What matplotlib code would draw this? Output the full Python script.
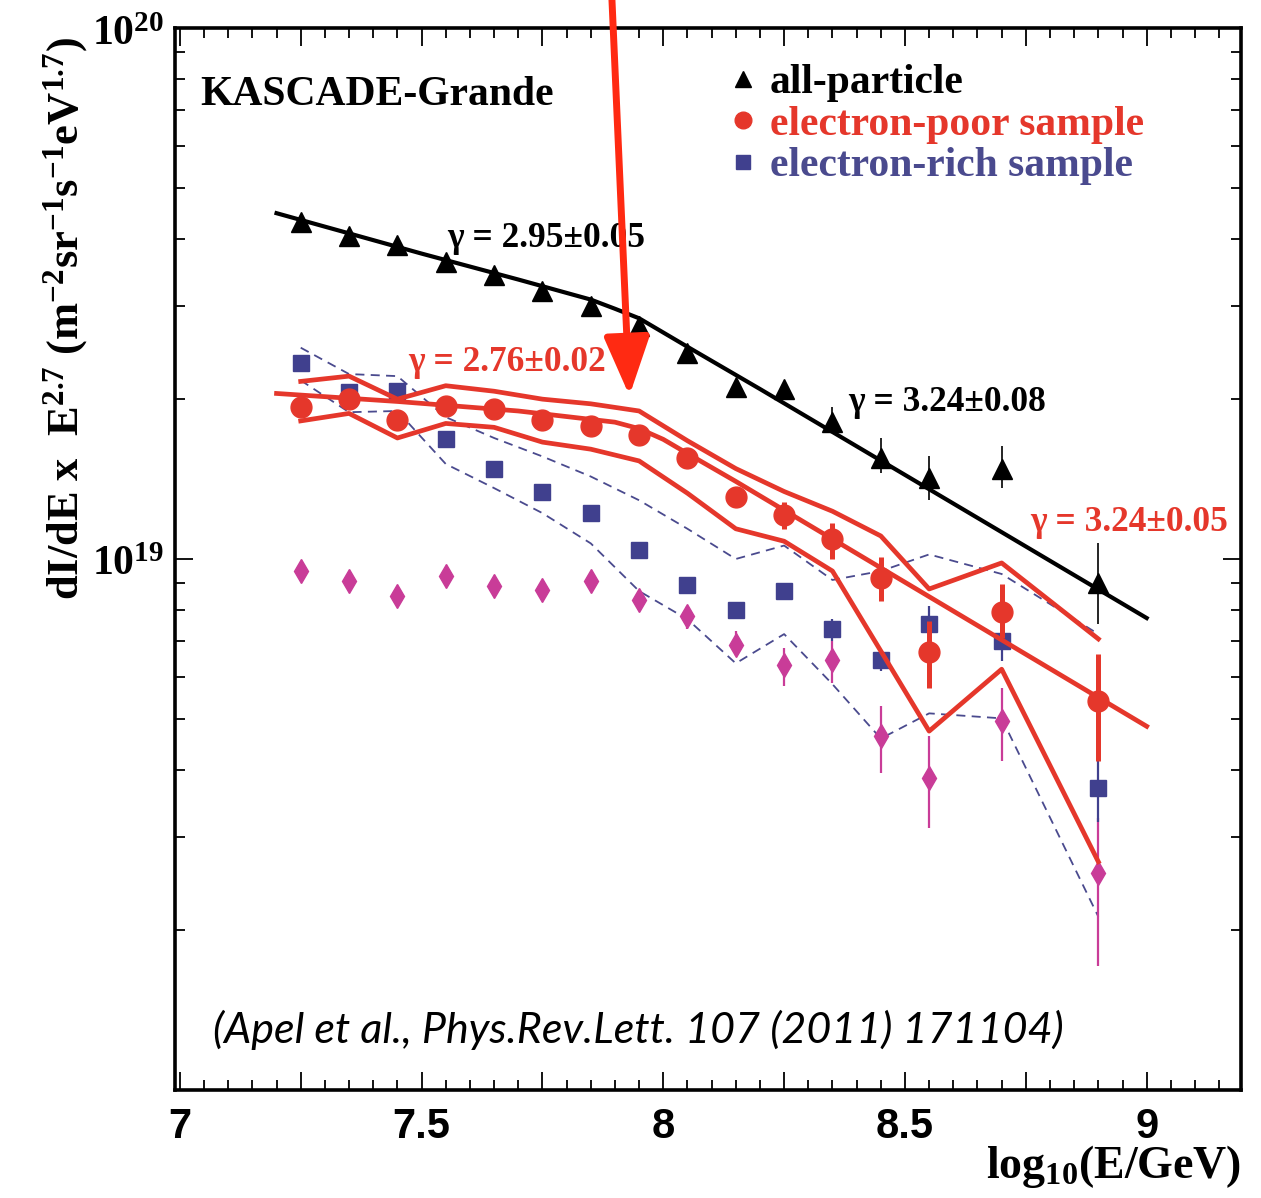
import matplotlib
matplotlib.use('Agg')
import matplotlib.pyplot as plt
from matplotlib.lines import Line2D
from matplotlib.ticker import FixedLocator, FuncFormatter, LogLocator, NullFormatter
import numpy as np

plt.rcParams['mathtext.fontset'] = 'custom'
plt.rcParams['mathtext.rm'] = 'Liberation Serif:bold'
plt.rcParams['mathtext.bf'] = 'Liberation Serif:bold'
plt.rcParams['mathtext.it'] = 'Liberation Serif:bold:italic'

# energy bins, log10(E/GeV)
logE = [7.25, 7.35, 7.45, 7.55, 7.65, 7.75, 7.85, 7.95, 8.05, 8.15, 8.25, 8.35, 8.45, 8.55, 8.7, 8.9]

# all-particle spectrum (x E^2.7)
allp = [4.32e19, 4.05e19, 3.90e19, 3.62e19, 3.42e19, 3.19e19, 3.00e19, 2.75e19,
        2.44e19, 2.11e19, 2.09e19, 1.81e19, 1.55e19, 1.42e19, 1.48e19, 9.01e18]
allp_lo = [None] * 11 + [1.73e19, 1.45e19, 1.29e19, 1.36e19, 7.54e18]
allp_hi = [None] * 11 + [1.93e19, 1.69e19, 1.56e19, 1.63e19, 1.07e19]

# electron-poor sample
epoor = [1.93e19, 2.00e19, 1.83e19, 1.94e19, 1.92e19, 1.83e19, 1.78e19, 1.71e19,
         1.55e19, 1.31e19, 1.21e19, 1.09e19, 9.21e18, 6.68e18, 7.94e18, 5.40e18]
epoor_lo = [None] * 9 + [1.26e19, 1.14e19, 1.00e19, 8.33e18, 5.71e18, 7.10e18, 4.16e18]
epoor_hi = [None] * 9 + [1.36e19, 1.28e19, 1.17e19, 1.01e19, 7.64e18, 8.97e18, 6.62e18]
# systematic band of electron-poor sample
epoor_up = [2.16e19, 2.21e19, 2.00e19, 2.12e19, 2.07e19, 2.00e19, 1.96e19, 1.90e19,
            1.67e19, 1.48e19, 1.34e19, 1.23e19, 1.105e19, 8.78e18, 9.83e18, 7.07e18]
epoor_dn = [1.82e19, 1.88e19, 1.69e19, 1.80e19, 1.77e19, 1.66e19, 1.61e19, 1.53e19,
            1.33e19, 1.14e19, 1.08e19, 9.49e18, 6.71e18, 4.74e18, 6.20e18, 2.69e18]

# electron-rich sample
erich = [2.34e19, 2.06e19, 2.07e19, 1.68e19, 1.48e19, 1.34e19, 1.22e19, 1.04e19,
         8.93e18, 8.01e18, 8.70e18, 7.38e18, 6.45e18, 7.54e18, 7.00e18, 3.70e18]
erich_lo = [None] * 11 + [7.00e18, 6.15e18, 6.85e18, 6.42e18, 3.20e18]
erich_hi = [None] * 11 + [7.70e18, 6.71e18, 8.15e18, 7.47e18, 4.25e18]
erich_up = [2.50e19, 2.23e19, 2.21e19, 1.85e19, 1.69e19, 1.56e19, 1.43e19, 1.29e19,
            1.14e19, 1.00e19, 1.06e19, 9.13e18, 9.49e18, 1.02e19, 9.37e18, 7.22e18]
erich_dn = [2.17e19, 1.89e19, 1.90e19, 1.51e19, 1.36e19, 1.22e19, 1.07e19, 8.70e18,
            7.70e18, 6.36e18, 7.22e18, 5.81e18, 4.59e18, 5.12e18, 5.01e18, 2.12e18]

# heavy-like component (diamonds)
heavy = [9.49e18, 9.09e18, 8.52e18, 9.29e18, 8.89e18, 8.74e18, 9.09e18, 8.37e18,
         7.81e18, 6.88e18, 6.31e18, 6.45e18, 4.64e18, 3.86e18, 4.95e18, 2.56e18]
heavy_lo = [None] * 8 + [7.38e18, 6.56e18, 5.76e18, 5.83e18, 3.95e18, 3.11e18, 4.16e18, 1.71e18]
heavy_hi = [None] * 8 + [8.15e18, 7.31e18, 6.79e18, 7.00e18, 5.28e18, 4.64e18, 5.71e18, 3.25e18]

# broken power-law fits
fit_all_x = [7.2, 7.5, 7.7, 7.85, 7.9, 7.95, 8.0, 8.05, 8.2, 9.0]
fit_all_y = [4.48e19, 3.76e19, 3.36e19, 3.08e19, 2.96e19, 2.84e19, 2.67e19, 2.51e19, 2.09e19, 7.74e18]
fit_poor_x = [7.2, 7.45, 7.7, 7.9, 7.95, 8.0, 8.05, 8.15, 9.0]
fit_poor_y = [2.05e19, 1.98e19, 1.90e19, 1.81e19, 1.76e19, 1.68e19, 1.58e19, 1.40e19, 4.84e18]

black = 'black'
red = '#e5372b'
blue = '#40408e'
dblue = '#4a4a8e'
magenta = '#c93c98'


def yerr(y, lo, hi):
    y = np.array(y)
    lo = np.array([np.nan if v is None else v for v in lo], dtype=float)
    hi = np.array([np.nan if v is None else v for v in hi], dtype=float)
    return np.nan_to_num(np.vstack([y - lo, hi - y]))


fig = plt.figure(figsize=(12.61, 11.98), dpi=100)
ax = fig.add_axes([0.1388, 0.0902, 0.8453, 0.8864])
ax.set_yscale('log')
ax.set_xlim(6.99, 9.195)
ax.set_ylim(1e18, 1e20)

# electron-rich band + points
ax.plot(logE, erich_up, ls=(0, (5, 3.5)), color=dblue, lw=1.3, zorder=1)
ax.plot(logE, erich_dn, ls=(0, (5, 3.5)), color=dblue, lw=1.3, zorder=1)
ax.errorbar(logE, heavy, yerr=yerr(heavy, heavy_lo, heavy_hi), fmt='d', ms=12,
            color=magenta, ecolor=magenta, elinewidth=1.6, capsize=0, zorder=2)
ax.errorbar(logE, erich, yerr=yerr(erich, erich_lo, erich_hi), fmt='s', ms=11,
            color=blue, ecolor=blue, elinewidth=1.6, capsize=0, zorder=3)

# electron-poor band + points
ax.plot(logE, epoor_up, color=red, lw=3.4, zorder=4)
ax.plot(logE, epoor_dn, color=red, lw=3.4, zorder=4)
ax.plot(fit_poor_x, fit_poor_y, color=red, lw=3.4, zorder=4)
ax.errorbar(logE, epoor, yerr=yerr(epoor, epoor_lo, epoor_hi), fmt='o', ms=15,
            color=red, ecolor=red, elinewidth=3.6, capsize=0, zorder=5)

# all-particle
ax.plot(fit_all_x, fit_all_y, color=black, lw=3, zorder=6)
ax.errorbar(logE, allp, yerr=yerr(allp, allp_lo, allp_hi), fmt='^', ms=14,
            color=black, ecolor=black, elinewidth=1.2, capsize=0, zorder=7)

# axes styling
for s in ax.spines.values():
    s.set_linewidth(2.6)
ax.xaxis.set_major_locator(FixedLocator(np.arange(7.0, 9.2, 0.25)))
ax.xaxis.set_minor_locator(FixedLocator(np.arange(7.0, 9.2, 0.05)))
ax.xaxis.set_major_formatter(FuncFormatter(
    lambda v, p: '%g' % v if abs(v * 2 - round(v * 2)) < 1e-6 else ''))
ax.yaxis.set_major_locator(LogLocator(base=10))
ax.yaxis.set_minor_locator(LogLocator(base=10, subs=np.arange(2, 10)))
ax.yaxis.set_major_formatter(FuncFormatter(
    lambda v, p: r'$\mathbf{10^{%d}}$' % round(np.log10(v)) if v > 5e18 else ''))
ax.yaxis.set_minor_formatter(NullFormatter())
ax.tick_params(which='both', direction='in', top=True, right=True, width=1.3)
ax.tick_params(which='major', length=13)
ax.tick_params(which='minor', length=7)
ax.tick_params(axis='x', which='major', pad=12)
ax.tick_params(axis='y', which='major', pad=8, labelsize=30)
for lab in ax.get_xticklabels():
    lab.set_fontfamily(['Liberation Sans', 'DejaVu Sans'])
    lab.set_fontweight('bold')
    lab.set_fontsize(30)

ax.set_xlabel(r'$\mathbf{log_{10}(E/GeV)}$', fontsize=33, ha='right', va='center')
ax.xaxis.set_label_coords(1.0, -0.072)
ax.set_ylabel(r'dI/dE x  E$^{\mathbf{2.7}}$ (m$^{\mathbf{-2}}$sr$^{\mathbf{-1}}$s$^{\mathbf{-1}}$eV$^{\mathbf{1.7}}$)',
              family='Liberation Serif', fontweight='bold', fontsize=32, va='center')
ax.yaxis.set_label_coords(-0.103, 0.726)

serif = dict(family='Liberation Serif', fontweight='bold')
ax.text(0.0235, 0.937, 'KASCADE-Grande', transform=ax.transAxes, fontsize=30,
        va='center', ha='left', **serif)
ax.text(7.552, 4.02e19, u'\u03b3 = 2.95\u00b10.05', fontsize=25.5, color=black, va='center', **serif)
ax.text(7.472, 2.34e19, u'\u03b3 = 2.76\u00b10.02', fontsize=25.5, color=red, va='center', **serif)
ax.text(8.382, 1.97e19, u'\u03b3 = 3.24\u00b10.08', fontsize=25.5, color=black, va='center', **serif)
ax.text(8.758, 1.17e19, u'\u03b3 = 3.24\u00b10.05', fontsize=25.5, color=red, va='center', **serif)

ax.text(0.0356, 0.0565, '(Apel et al., Phys.Rev.Lett. 107 (2011) 171104)', transform=ax.transAxes,
        family='Lato', style='italic', fontsize=31, va='center', ha='left')

handles = [Line2D([], [], ls='none', marker='^', ms=12, color=black),
           Line2D([], [], ls='none', marker='o', ms=12, color=red),
           Line2D([], [], ls='none', marker='s', ms=10, color=blue)]
ax.legend(handles, ['all-particle', 'electron-poor sample', 'electron-rich sample'],
          loc='upper left', bbox_to_anchor=(0.519, 0.966), frameon=False,
          borderpad=0, borderaxespad=0, handlelength=0.7, handletextpad=0.3,
          labelspacing=0.08, labelcolor=[black, red, dblue],
          prop=dict(family='Liberation Serif', weight='bold', size=30))

# arrow pointing at the knee
ax.annotate('', xy=(7.93, 2.03e19), xytext=(0.4853, 1.0), textcoords='figure fraction',
            xycoords='data', annotation_clip=False,
            arrowprops=dict(arrowstyle='-|>,head_length=0.9,head_width=0.35',
                            color='#ff2a12', lw=5, mutation_scale=40, shrinkA=0, shrinkB=0),
            zorder=10)

fig.savefig('out.png', dpi=100)
